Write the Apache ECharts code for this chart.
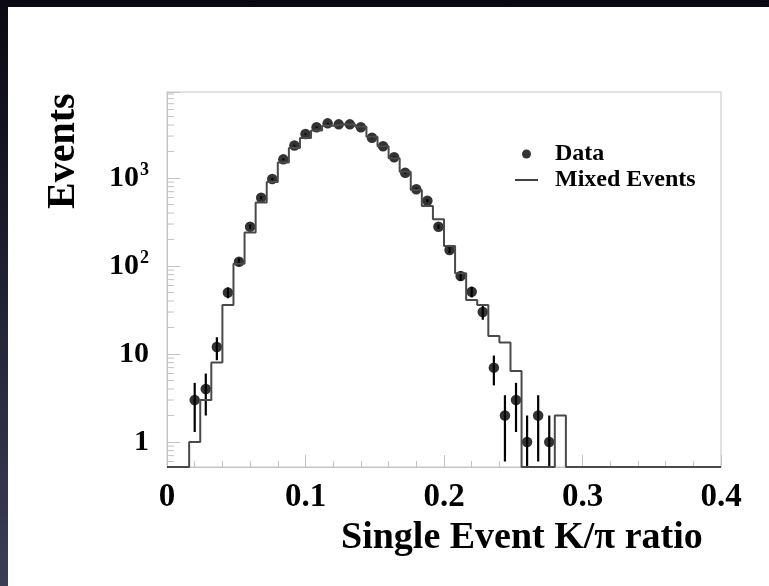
<!DOCTYPE html>
<html>
<head>
<meta charset="utf-8">
<script src="https://cdn.jsdelivr.net/npm/echarts@6/dist/echarts.min.js"></script>
<style>
  html, body { margin: 0; padding: 0; }
  body { width: 769px; height: 586px; overflow: hidden;
         background: linear-gradient(to bottom, #0a0913 0%, #1c1c2c 40%, #3c3e58 100%); position: relative; }
  #panel { position: absolute; left: 8px; top: 7px; width: 761px; height: 579px; background: #ffffff; }
  #chart { position: absolute; left: 0; top: 0; width: 769px; height: 586px; }
</style>
</head>
<body>
<div id="panel"></div>
<div id="chart"></div>
<script>
// ---- data ----
const dataX = [0.020, 0.028, 0.036, 0.044, 0.052, 0.060, 0.068, 0.076, 0.084, 0.092,
               0.100, 0.108, 0.116, 0.124, 0.132, 0.140, 0.148, 0.156, 0.164, 0.172,
               0.180, 0.188, 0.196, 0.204, 0.212, 0.220, 0.228, 0.236, 0.244, 0.252,
               0.260, 0.268, 0.276];
const dataY = [3, 4, 12, 50, 112, 280, 597, 974, 1630, 2340,
               3160, 3780, 4180, 4075, 4075, 3780, 2870, 2300, 1720, 1150,
               745, 552, 280, 152, 77, 51, 30, 7, 2, 3,
               1, 2, 1];
const dataErr = [1.7, 2, 3.5, 7, 10.6, 16.7, 24, 31, 40, 48,
                 56, 61, 65, 64, 64, 61, 54, 48, 41, 34,
                 27, 23.5, 16.7, 12.3, 8.8, 7.1, 5.5, 2.6, 1.4, 1.7,
                 1, 1.4, 1];
const histLow = 0, histHigh = 0.4;
const histValues = [0, 0, 1, 3, 8, 36, 106, 240, 528, 900,
                    1500, 2200, 2850, 3480, 3935, 4075, 4050, 3830, 2950, 2300,
                    1680, 1180, 731, 481, 340, 169, 83, 41, 36, 16,
                    13.5, 6.4, 0, 0, 0, 2, 0, 0, 0, 0,
                    0, 0, 0, 0, 0, 0, 0, 0, 0, 0];
const xTicks = [0, 0.1, 0.2, 0.3, 0.4];
const yDecades = [1, 10, 100, 1000];
const Y_MIN = 0.52, Y_MAX = 9500;

// ---- derived structures ----
const nBins = histValues.length;
const binW = (histHigh - histLow) / nBins;
const histLine = [];
for (let i = 0; i < nBins; i++) {
  histLine.push([histLow + i * binW, histValues[i] > 0 ? histValues[i] : Y_MIN]);
}
histLine.push([histHigh, histValues[nBins - 1] > 0 ? histValues[nBins - 1] : Y_MIN]);

const points = dataX.map((x, i) => [x, dataY[i]]);
const errBars = dataX.map((x, i) => [x, dataY[i] - dataErr[i], dataY[i] + dataErr[i]]);

const yMinorTicks = [];
for (let d = -1; d <= 3; d++) {
  for (let m = 2; m <= 9; m++) {
    const v = m * Math.pow(10, d);
    if (v > Y_MIN && v < Y_MAX) yMinorTicks.push([0, v]);
  }
}

const FONT = '"Liberation Serif", "Times New Roman", serif';
const AX = '#c4c4c4';

const chart = echarts.init(document.getElementById('chart'), null, { renderer: 'canvas' });
chart.setOption({
  backgroundColor: 'transparent',
  animation: false,
  grid: { left: 167, top: 92, width: 554, height: 375, show: true, borderColor: AX, borderWidth: 1, backgroundColor: 'transparent' },
  legend: {
    orient: 'vertical', left: 515, top: 142, padding: 0, itemWidth: 23, itemHeight: 9, itemGap: 2,
    textStyle: { fontFamily: FONT, fontWeight: 'bold', fontSize: 24, color: '#000', lineHeight: 24, padding: [0, 0, 0, 12] },
    data: [
      { name: 'Data', icon: 'circle', itemStyle: { color: '#000' } },
      { name: 'Mixed Events', icon: 'path://M0,0 L23,0 L23,1.5 L0,1.5 Z', itemStyle: { color: '#000' } }
    ]
  },
  xAxis: {
    type: 'value', min: 0, max: 0.4, interval: 0.1,
    axisLine: { show: true, lineStyle: { color: AX, width: 1 } },
    axisTick: { show: true, inside: true, length: 12, lineStyle: { color: AX } },
    minorTick: { show: true, splitNumber: 5, length: 6, lineStyle: { color: AX } },
    splitLine: { show: false },
    axisLabel: {
      margin: 14, fontFamily: FONT, fontWeight: 'bold', fontSize: 33, color: '#000',
      formatter: v => (xTicks.some(t => Math.abs(t - v) < 1e-9) ? (v === 0 ? '0' : String(+v.toFixed(1))) : '')
    }
  },
  yAxis: {
    type: 'log', logBase: 10, min: Y_MIN, max: Y_MAX,
    axisLine: { show: true, lineStyle: { color: AX, width: 1 } },
    axisTick: { show: true, inside: true, length: 13, lineStyle: { color: AX } },
    splitLine: { show: false },
    axisLabel: {
      margin: 18, fontFamily: FONT, fontWeight: 'bold', fontSize: 30, color: '#000',
      formatter: v => {
        const idx = yDecades.findIndex(d => Math.abs(d - v) / d < 1e-6);
        if (idx < 0) return '';
        const e = Math.round(Math.log10(yDecades[idx]));
        if (e === 0) return '1';
        if (e === 1) return '10';
        return '10{s|' + e + '}';
      },
      rich: { s: { fontFamily: FONT, fontWeight: 'bold', fontSize: 18, color: '#000', padding: [0, 0, 16, 1] } }
    }
  },
  graphic: [
    { type: 'text', left: 341, top: 519, style: { text: 'Single Event K/\u03c0 ratio', font: 'bold 38px ' + FONT, fill: '#000' } },
    { type: 'text', x: 44, y: 209, rotation: Math.PI / 2,
      style: { text: 'Events', font: 'bold 40px ' + FONT, fill: '#000', textAlign: 'left', textVerticalAlign: 'top' } }
  ],
  series: [
    {
      name: 'yMinorTicks', type: 'custom', silent: true, clip: false, z: 1,
      data: yMinorTicks, encode: { x: 0, y: 1 },
      renderItem: (params, api) => {
        const p = api.coord([0, api.value(1)]);
        return { type: 'line', shape: { x1: p[0], y1: p[1], x2: p[0] + 7, y2: p[1] }, style: { stroke: AX, lineWidth: 1 } };
      }
    },
    {
      name: 'errors', type: 'custom', silent: true, clip: true, z: 2,
      data: errBars, encode: { x: 0, y: [1, 2] },
      renderItem: (params, api) => {
        const x = api.value(0);
        const lo = Math.max(api.value(1), Y_MIN);
        const hi = api.value(2);
        const a = api.coord([x, lo]);
        const b = api.coord([x, hi]);
        return { type: 'line', shape: { x1: a[0], y1: a[1], x2: b[0], y2: b[1] }, style: { stroke: '#000', lineWidth: 2.2 } };
      }
    },
    {
      name: 'Data', type: 'scatter', data: points, symbol: 'circle', symbolSize: 10.5,
      itemStyle: { color: '#000' }, z: 3
    },
    {
      name: 'Mixed Events', type: 'line', data: histLine, step: 'end', symbol: 'none', showSymbol: false,
      lineStyle: { color: '#4a4a4a', width: 2 }, clip: true, z: 4
    }
  ]
});
</script>
</body>
</html>
